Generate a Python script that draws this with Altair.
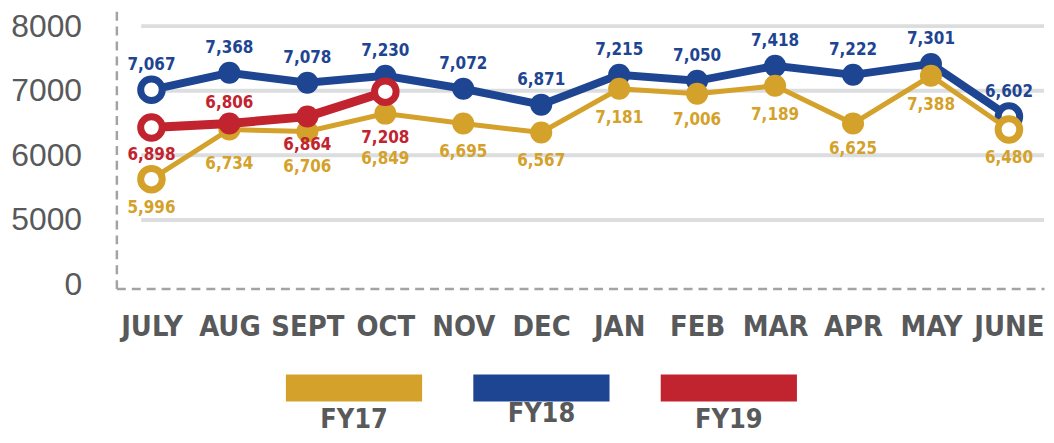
import altair as alt
import pandas as pd

months = ["JULY", "AUG", "SEPT", "OCT", "NOV", "DEC", "JAN", "FEB", "MAR", "APR", "MAY", "JUNE"]
series = ["FY17", "FY18", "FY19"]
colors = ["#D4A12A", "#1E4592", "#C1232F"]

# plotted positions (as drawn) and printed labels
fy17_pos = [5631, 6400, 6369, 6646, 6492, 6354, 7031, 6954, 7077, 6492, 7231, 6400]
fy17_lab = ["5,996", "6,734", "6,706", "6,849", "6,695", "6,567", "7,181", "7,006", "7,189", "6,625", "7,388", "6,480"]
fy18_pos = [7015, 7277, 7123, 7231, 7031, 6785, 7246, 7154, 7385, 7246, 7415, 6600]
fy18_lab = ["7,067", "7,368", "7,078", "7,230", "7,072", "6,871", "7,215", "7,050", "7,418", "7,222", "7,301", "6,602"]
fy19_pos = [6431, 6492, 6600, 6985]
fy19_lab = ["6,898", "6,806", "6,864", "7,208"]

tick_vals = [4000, 5000, 6000, 7000, 8000]
grid_vals = [5000, 6000, 7000, 8000]

rows = []
for s, pos, lab in [("FY17", fy17_pos, fy17_lab), ("FY18", fy18_pos, fy18_lab), ("FY19", fy19_pos, fy19_lab)]:
    for i, (v, t) in enumerate(zip(pos, lab)):
        rows.append({"series": s, "month": months[i], "value": v, "label": t,
                     "open": i == 0 or i == len(pos) - 1})
df = pd.DataFrame(rows)

# label offsets (style)
label_dy = {"FY18": -25, "FY17": 29, "FY19": 28}
special_dy = {("FY17", "AUG"): 35, ("FY17", "SEPT"): 36, ("FY17", "OCT"): 46,
              ("FY17", "FEB"): 26, ("FY17", "APR"): 26,
              ("FY19", "AUG"): -21, ("FY19", "SEPT"): 29, ("FY19", "OCT"): 47}
df["dy"] = [special_dy.get((s, m), label_dy[s]) for s, m in zip(df["series"], df["month"])]

NARROW = "Liberation Sans Narrow, DejaVu Sans Condensed, Roboto, sans-serif"
GRAY = "#58595b"
W, H = 933, 280

x_enc = alt.X("month:N", sort=months,
              scale=alt.Scale(type="point", padding=0.45),
              axis=alt.Axis(title=None, labelAngle=0, ticks=False, grid=False,
                            domainDash=[9, 6], domainColor="#a3a3a3", domainWidth=2.5,
                            labelFont=NARROW, labelFontSize=29, labelFontWeight="bold",
                            labelColor=GRAY, labelPadding=24, minExtent=60, maxExtent=60))
y_scale = alt.Scale(domain=[3938, 8246], nice=False, zero=False)
y_axis = alt.Axis(title=None, values=tick_vals, grid=False, ticks=False,
                  labelExpr="datum.value == 4000 ? '0' : format(datum.value, 'd')",
                  domainDash=[9, 6], domainColor="#a3a3a3", domainWidth=2.5,
                  labelFont="Liberation Sans, Arial, sans-serif", labelFontSize=32,
                  labelColor=GRAY, labelPadding=35, minExtent=109, maxExtent=109)
y_enc = alt.Y("value:Q", scale=y_scale, axis=y_axis)

color_enc = alt.Color("series:N", scale=alt.Scale(domain=series, range=colors), legend=None)

grid = alt.Chart(pd.DataFrame({"value": grid_vals})).mark_rule(color="#dcddde", strokeWidth=4).encode(
    y=y_enc, x=alt.value(25), x2=alt.value(W))

base = alt.Chart(df).encode(x=x_enc, y=y_enc, color=color_enc)

widths = {"FY18": 8, "FY17": 5, "FY19": 9}
layers = [grid]
for s in ["FY18", "FY17", "FY19"]:
    b = base.transform_filter(alt.datum.series == s)
    layers.append(b.mark_line(strokeWidth=widths[s]))
    layers.append(b.transform_filter("!datum.open").mark_circle(size=490, opacity=1))
    layers.append(b.transform_filter("datum.open").mark_point(
        size=470, filled=False, fill="white", fillOpacity=1, strokeWidth=7, opacity=1))

for dy in sorted(df["dy"].unique()):
    layers.append(
        base.transform_filter(f"datum.dy == {int(dy)}").mark_text(
            dy=int(dy), font=NARROW, fontSize=17, fontWeight="bold", baseline="middle"
        ).encode(text="label:N")
    )

main = alt.layer(*layers).properties(width=W, height=H)

leg_df = pd.DataFrame({"series": series})
leg_x = alt.X("series:N", scale=alt.Scale(type="point", domain=series, range=[239, 616], padding=0),
              axis=None)
rect_shape = "M-1,-0.197L1,-0.197L1,0.197L-1,0.197Z"
leg_rect = alt.Chart(leg_df).mark_point(shape=rect_shape, size=18769, filled=True, opacity=1).encode(
    x=leg_x, y=alt.value(14), color=color_enc)
leg_txt_a = alt.Chart(leg_df).transform_filter("datum.series != 'FY18'").mark_text(
    font=NARROW, fontSize=27, fontWeight="bold", color=GRAY, baseline="middle").encode(
    x=leg_x, y=alt.value(46), text="series:N")
leg_txt_b = alt.Chart(leg_df).transform_filter("datum.series == 'FY18'").mark_text(
    font=NARROW, fontSize=27, fontWeight="bold", color=GRAY, baseline="middle").encode(
    x=leg_x, y=alt.value(40), text="series:N")
legend = alt.layer(leg_rect, leg_txt_a, leg_txt_b).properties(width=W, height=48)

chart = alt.vconcat(main, legend, spacing=26).properties(padding=0).configure_view(stroke=None)

chart.save("out.html", embed_options={"renderer": "svg", "actions": False})
